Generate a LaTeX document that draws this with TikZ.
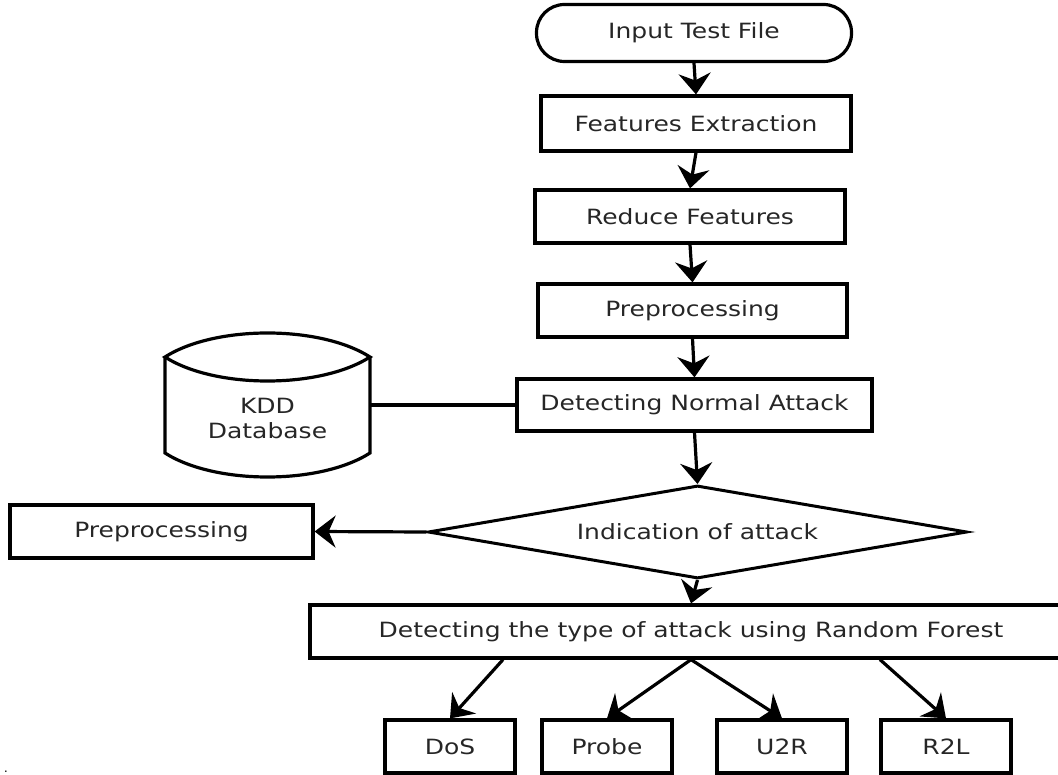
\documentclass[tikz,border=0pt]{standalone}
\usepackage{fontspec}
\setmainfont[FakeStretch=1.19]{DejaVu Sans}
\usetikzlibrary{shapes.geometric,arrows.meta}
\begin{document}
\begin{tikzpicture}[x=1pt,y=-1pt,
  every node/.style={font=\fontsize{21}{25}\selectfont, text=black!85, inner sep=0pt},
  box/.style={draw, line width=3.2pt, minimum height=53pt},
  term/.style={draw, line width=3.2pt, rounded corners=28pt, minimum width=315pt, minimum height=57pt},
  dec/.style={draw, diamond, aspect=5.8, line width=3pt, minimum width=539pt, minimum height=93pt},
  conn/.style={line width=3.2pt},
  arr/.style={conn, -{Stealth[length=21pt,width=32pt,inset=7pt]}}
]
\useasboundingbox (0,0) rectangle (1058,775);

\node[term] (input) at (694,33) {Input Test File};
\node[box, minimum width=310pt, minimum height=55pt] (fe) at (696,123.5) {Features Extraction};
\node[box, minimum width=310pt] (rf) at (690,216.5) {Reduce Features};
\node[box, minimum width=309pt] (pre) at (692.5,310.5) {Preprocessing};
\node[box, minimum width=355pt, minimum height=52pt] (norm) at (694.5,405) {Detecting Normal Attack};
\node[dec] (dia) at (697.5,532) {Indication of attack};
\node[box, minimum width=303pt] (pre2) at (161.5,531.5) {Preprocessing};
\node[box, minimum width=762pt] (big) at (691,631.5) {Detecting the type of attack using Random Forest};
\node[box, minimum width=130pt] (dos) at (450,746.5) {DoS};
\node[box, minimum width=130pt] (probe) at (607,746.5) {Probe};
\node[box, minimum width=130pt] (u2r) at (782,746.5) {U2R};
\node[box, minimum width=130pt] (r2l) at (946,746.5) {R2L};

% KDD database cylinder
\node[minimum width=205pt, minimum height=144pt] (kdd) at (267.5,405) {};
\node[align=center] (kddtext) at (267.5,418) {KDD\\Database};
\draw[conn, line join=miter] (165,357) .. controls (215,325) and (320,325) .. (370,357)
  .. controls (320,389) and (215,389) .. (165,357) -- cycle;
\draw[conn, line join=miter] (165,357) -- (165,453) .. controls (215,485) and (320,485) .. (370,453) -- (370,357);

\node[anchor=base, font=\fontsize{12}{12}\selectfont] (dot) at (6,772.5) {.};

% connectors
\draw[arr] (input.south) -- (fe.north);
\draw[arr] (fe.south) -- (rf.north);
\draw[arr] (rf.south) -- (pre.north);
\draw[arr] (pre.south) -- (norm.north);
\draw[conn] (kdd.east) -- (norm.west);
\draw[arr] (norm.south) -- (dia.north);
\draw[arr] (dia.west) -- (pre2.east);
\draw[arr] (dia.south) -- (big.north);
\draw[arr] ([xshift=-188pt]big.south) -- (dos.north);
\draw[arr] (big.south) -- (probe.north);
\draw[arr] (big.south) -- (u2r.north);
\draw[arr] ([xshift=189pt]big.south) -- (r2l.north);
\end{tikzpicture}
\end{document}
